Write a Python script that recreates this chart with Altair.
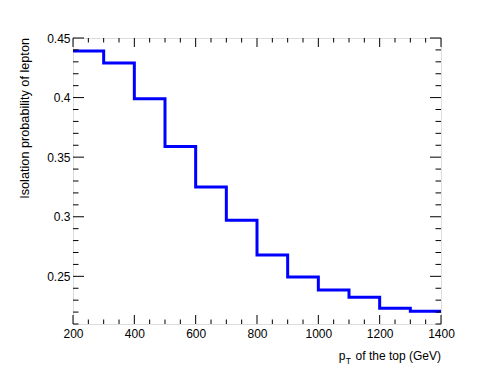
import altair as alt
import pandas as pd

# Histogram bin edges and contents
bin_edges = [200, 300, 400, 500, 600, 700, 800, 900, 1000, 1100, 1200, 1300, 1400]
bin_values = [0.439, 0.429, 0.399, 0.359, 0.325, 0.297, 0.268, 0.2495, 0.2385, 0.2325, 0.2232, 0.2207]

# Axis ticks
x_major = [200, 400, 600, 800, 1000, 1200, 1400]
x_minor = [250, 300, 350, 450, 500, 550, 650, 700, 750, 850, 900, 950, 1050, 1100, 1150, 1250, 1300, 1350]
y_major = [0.25, 0.3, 0.35, 0.4, 0.45]
y_minor = [0.21, 0.22, 0.23, 0.24, 0.26, 0.27, 0.28, 0.29, 0.31, 0.32, 0.33, 0.34,
           0.36, 0.37, 0.38, 0.39, 0.41, 0.42, 0.43, 0.44]

x_title_main = "of the top (GeV)"
y_title = "Isolation probability of lepton"

W, H = 368, 286
FONT = "Liberation Sans"

# step line points: each bin start + final edge with last value
pts = pd.DataFrame({
    "x": bin_edges,
    "y": bin_values + [bin_values[-1]],
})

xs = alt.Scale(domain=[200, 1400], nice=False, zero=False)
ys = alt.Scale(domain=[0.21, 0.45], nice=False, zero=False)

line = alt.Chart(pts).mark_line(
    interpolate="step-after", color="#0000ff", strokeWidth=3
).encode(
    x=alt.X("x:Q", scale=xs, axis=alt.Axis(
        values=x_major, format="d", title=None, ticks=False, domain=False, grid=False,
        labelFlush=False, labelPadding=4, labelFont=FONT, labelFontSize=12,
        labelColor="black")),
    y=alt.Y("y:Q", scale=ys, axis=alt.Axis(
        values=y_major, format="~g", title=None, ticks=False, domain=False, grid=False,
        labelFlush=False, labelPadding=3, labelFont=FONT, labelFontSize=12,
        labelColor="black")),
)

def xticks(vals, length):
    df = pd.DataFrame({"x": vals})
    base = alt.Chart(df).mark_rule(color="black", strokeWidth=1)
    bottom = base.encode(x=alt.X("x:Q", scale=xs), y=alt.value(H), y2=alt.value(H - length))
    top = base.encode(x=alt.X("x:Q", scale=xs), y=alt.value(0), y2=alt.value(length))
    return [bottom, top]

def yticks(vals, length):
    df = pd.DataFrame({"y": vals})
    base = alt.Chart(df).mark_rule(color="black", strokeWidth=1)
    left = base.encode(y=alt.Y("y:Q", scale=ys), x=alt.value(0), x2=alt.value(length))
    right = base.encode(y=alt.Y("y:Q", scale=ys), x=alt.value(W), x2=alt.value(W - length))
    return [left, right]

one = pd.DataFrame({"k": [0]})
ytitle = alt.Chart(one).mark_text(
    text=y_title, angle=270, align="right", baseline="alphabetic",
    font=FONT, fontSize=12.7, color="black"
).encode(x=alt.value(-44), y=alt.value(0))

xt_main = alt.Chart(one).mark_text(
    text=x_title_main, align="right", baseline="alphabetic",
    font=FONT, fontSize=12, color="black"
).encode(x=alt.value(W), y=alt.value(H + 35.5))
xt_p = alt.Chart(one).mark_text(
    text="p", align="left", baseline="alphabetic",
    font=FONT, fontSize=12, color="black"
).encode(x=alt.value(265.7), y=alt.value(H + 35.5))
xt_T = alt.Chart(one).mark_text(
    text="T", align="left", baseline="alphabetic",
    font=FONT, fontSize=8.5, color="black"
).encode(x=alt.value(272.7), y=alt.value(H + 40))

layers = [line] + xticks(x_major, 9) + xticks(x_minor, 4.5) + yticks(y_major, 11) + yticks(y_minor, 5.5) \
    + [ytitle, xt_main, xt_p, xt_T]

chart = alt.layer(*layers).properties(
    width=W, height=H,
    autosize=alt.AutoSizeParams(type="none"),
    padding={"left": 65, "top": 30, "right": 42, "bottom": 50},
).configure_view(
    stroke="black", strokeWidth=1
).configure(background="white")

chart.save("out.html", embed_options={"renderer": "svg", "actions": False})
